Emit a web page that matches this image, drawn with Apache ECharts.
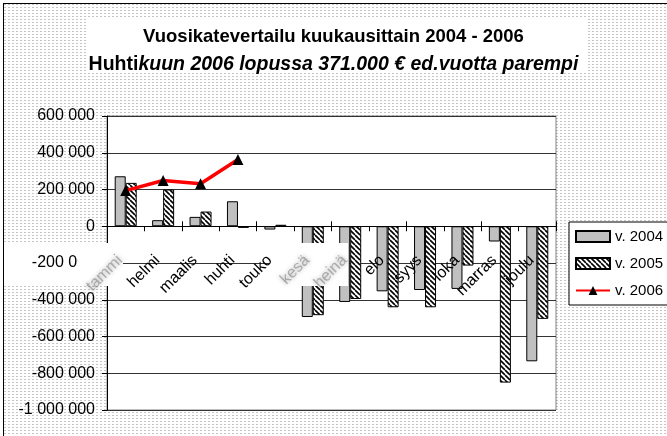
<!DOCTYPE html>
<html>
<head>
<meta charset="utf-8">
<script src="https://cdn.jsdelivr.net/npm/echarts@6/dist/echarts.min.js"></script>
<style>
  html, body { margin: 0; padding: 0; background: #fff; }
  #bg {
    position: absolute; left: 3px; top: 3px; width: 700px; height: 470px;
    border-left: 1px solid #000; border-top: 1px solid #000;
    background-color: #fff;
    background-image: linear-gradient(to right, rgba(255,255,255,0) 0 2px, #fff 2px 4px),
                      linear-gradient(to bottom, #c4c4c4 0 1px, #fff 1px 3px);
    background-size: 4px 3px, 4px 3px;
  }
  #main { position: absolute; left: 0; top: 0; width: 667px; height: 436px; }
</style>
</head>
<body>
<div id="bg"></div>
<div id="main"></div>
<script>
var months = ['tammi','helmi','maalis','huhti','touko','kesä','heinä','elo','syys','loka','marras','joulu'];
var blurred = ['tammi','kesä','heinä'];
var v2004 = [272000, 33000, 51000, 136000, -18000, -494000, -412000, -354000, -347000, -341000, -83000, -735000];
var v2005 = [236000, 200000, 80000, -9000, 8000, -484000, -396000, -441000, -441000, -214000, -851000, -504000];
var v2006 = [194000, 249000, 231000, 363000];
var yMin = -1000000, yMax = 600000, yStep = 200000;

// plot area (px)
var gTop = 116, gBottom = 26, gH = 436 - gTop - gBottom;
// distance from the grid edges to the zero line
var zeroFromTop = gH * yMax / (yMax - yMin);
var zeroFromBottom = gH - zeroFromTop;

// diagonal hatch for v. 2005
var hatch = document.createElement('canvas');
hatch.width = 5; hatch.height = 5;
var ctx = hatch.getContext('2d');
ctx.fillStyle = '#fff';
ctx.fillRect(0, 0, 5, 5);
ctx.strokeStyle = '#000';
ctx.lineWidth = 1.6;
[-5, 0, 5].forEach(function (x0) {
  ctx.beginPath();
  ctx.moveTo(x0, 0);
  ctx.lineTo(x0 + 5, 5);
  ctx.stroke();
});

var cats = months.map(function (m) {
  if (blurred.indexOf(m) >= 0) {
    return { value: m, textStyle: { color: 'rgba(120,120,120,0.55)', textShadowColor: 'rgba(90,90,90,0.9)', textShadowBlur: 4 } };
  }
  return m;
});

function fmt(v) {
  var s = String(Math.abs(v)).replace(/\B(?=(\d{3})+(?!\d))/g, ' ');
  return (v < 0 ? '-' : '') + s;
}

var font = 'Liberation Sans, Arial, sans-serif';
var myChart = echarts.init(document.getElementById('main'));
var option = {
  backgroundColor: 'transparent',
  textStyle: { fontFamily: font },
  animation: false,
  title: {
    left: 'center',
    top: 23,
    padding: 0,
    text: '{a|Vuosikatevertailu kuukausittain 2004 - 2006}\n{b|Huhti}{c|kuun 2006 lopussa 371.000 € ed.vuotta parempi}',
    textStyle: {
      rich: {
        a: { fontFamily: font, fontSize: 18.5, fontWeight: 'bold', color: '#000', lineHeight: 28 },
        b: { fontFamily: font, fontSize: 19.5, fontWeight: 'bold', color: '#000', lineHeight: 28 },
        c: { fontFamily: font, fontSize: 19.5, fontWeight: 'bold', fontStyle: 'italic', color: '#000', lineHeight: 28 }
      }
    }
  },
  legend: {
    orient: 'vertical',
    left: 569,
    top: 222,
    padding: [7, 6, 7, 6],
    itemGap: 12,
    itemWidth: 34,
    itemHeight: 11,
    backgroundColor: '#fff',
    borderColor: '#000',
    borderWidth: 1,
    borderRadius: 0,
    textStyle: { fontFamily: font, fontSize: 15, color: '#000' },
    data: [{ name: 'v. 2004', icon: 'rect' }, { name: 'v. 2005', icon: 'rect' }, 'v. 2006']
  },
  grid: {
    left: 107, top: gTop, right: 111, bottom: gBottom,
    outerBoundsMode: 'none',
    containLabel: false,
    show: true, backgroundColor: '#fff', borderColor: '#808080', borderWidth: 1
  },
  xAxis: [{
    type: 'category',
    data: cats,
    position: 'bottom',
    offset: -zeroFromBottom,
    zlevel: 1,
    z: 12,
    axisLine: { onZero: false, lineStyle: { color: '#000', width: 1 } },
    axisTick: { show: true, length: 5, lineStyle: { color: '#000' } },
    axisLabel: { rotate: 45, margin: 26, padding: [0, 8, 0, 0], interval: 0, fontFamily: font, fontSize: 16, color: '#000' }
  }, {
    type: 'category',
    data: months,
    position: 'top',
    offset: -zeroFromTop,
    z: 12,
    axisLine: { show: false, onZero: false },
    axisTick: { show: true, length: 5, lineStyle: { color: '#000' } },
    axisLabel: { show: false }
  }],
  yAxis: [{
    type: 'value',
    min: yMin, max: yMax, interval: yStep,
    z: 0,
    axisLine: { show: true, onZero: false, lineStyle: { color: '#000' } },
    axisTick: { show: true, length: 5, lineStyle: { color: '#000' } },
    axisLabel: { show: false },
    splitLine: { show: true, lineStyle: { color: '#333', width: 1 } }
  }, {
    type: 'value',
    min: yMin, max: yMax, interval: yStep,
    position: 'left',
    zlevel: 1,
    z: 10,
    axisLine: { show: false, onZero: false },
    axisTick: { show: false },
    splitLine: { show: false },
    axisLabel: { margin: 12, fontFamily: font, fontSize: 16, color: '#000', formatter: fmt }
  }],
  graphic: [
    { type: 'rect', z: 0, shape: { x: 88, y: 18, width: 500, height: 55 }, style: { fill: '#fff' } },
    { type: 'rect', zlevel: 1, z: 4, shape: { x: 4, y: 243, width: 119, height: 43 }, style: { fill: '#fff' } },
    { type: 'rect', zlevel: 1, z: 4, shape: { x: 270, y: 243, width: 78, height: 43 }, style: { fill: '#fff' } },
    { type: 'rect', zlevel: 1, z: 11, shape: { x: 78, y: 243, width: 44, height: 43 }, style: { fill: '#fff' } }
  ],
  series: [{
    name: 'v. 2004',
    type: 'bar',
    z: 2,
    barWidth: 11,
    barGap: '0%',
    itemStyle: { color: '#c0c0c0', borderColor: '#000', borderWidth: 1 },
    data: v2004
  }, {
    name: 'v. 2005',
    type: 'bar',
    z: 2,
    barWidth: 11,
    barGap: '0%',
    itemStyle: { color: { image: hatch, repeat: 'repeat' }, borderColor: '#000', borderWidth: 1 },
    data: v2005
  }, {
    name: 'v. 2006',
    type: 'line',
    z: 3,
    symbol: 'triangle',
    symbolSize: 11,
    lineStyle: { color: '#ff0000', width: 3.5 },
    itemStyle: { color: '#000' },
    data: v2006
  }]
};
myChart.setOption(option);
</script>
</body>
</html>
